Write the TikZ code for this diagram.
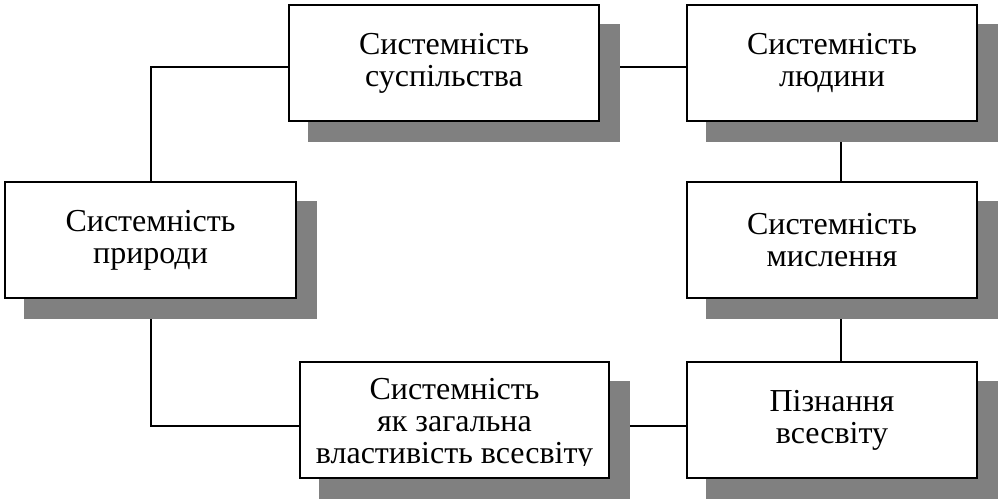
\documentclass[tikz,border=0pt]{standalone}
\usepackage{fontspec}
\setmainfont{Liberation Serif}
\usetikzlibrary{backgrounds}
\begin{document}
\begin{tikzpicture}[x=1pt,y=-1pt,
  boxfont/.style={font=\fontsize{32}{32}\selectfont},
  box/.style={draw=black, line width=2.4pt, fill=white, minimum width=#1,
    minimum height=116pt, inner sep=0pt, align=center, boxfont},
  textonly/.style={inner sep=0pt, align=center, boxfont},
  conn/.style={draw=black, line width=2pt},
  shadowfill/.style={fill=shadowgray, draw=none}
]
\definecolor{shadowgray}{RGB}{128,128,128}
\useasboundingbox (0,0) rectangle (999,500);

\node[box=291pt] (b1) at (150.5,240) {Системність\\природи};
\node[box=310pt] (b2) at (444,63) {Системність\\суспільства};
\node[box=290pt] (b3) at (832,63) {Системність\\людини};
\node[box=290pt] (b4) at (832,240) {Системність\\мислення};
\node[box=290pt] (b5) at (832,420) {Пізнання\\всесвіту};
\node[box=309pt] (b6) at (454.5,420) {};
\begin{scope}
  \clip (b6.north west) rectangle ([yshift=14pt]b6.south east);
  \node[textonly] (t6) at ([yshift=-4pt]b6.center) {Системність\\як загальна\\властивість всесвіту};
\end{scope}

\begin{scope}[on background layer]
  \draw[conn] (b1.north) |- ([yshift=-4pt]b2.west);
  \draw[conn] ([yshift=-4pt]b2.east) -- ([yshift=-4pt]b3.west);
  \draw[conn] ([xshift=9pt]b3.south) -- ([xshift=9pt]b4.north);
  \draw[conn] ([xshift=9pt]b4.south) -- ([xshift=9pt]b5.north);
  \draw[conn] ([yshift=-6pt]b5.west) -- ([yshift=-6pt]b6.east);
  \draw[conn] (b1.south) |- ([yshift=-6pt]b6.west);
  \foreach \b in {b1,b2,b3,b4,b5,b6}{
    \path[shadowfill] ([shift={(20,20)}]\b.north west) rectangle ([shift={(20,20)}]\b.south east);
  }
\end{scope}
\end{tikzpicture}
\end{document}
